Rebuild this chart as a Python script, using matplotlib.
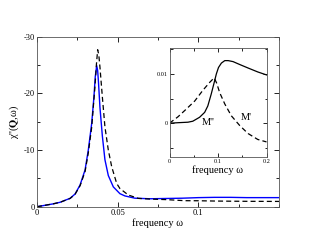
import numpy as np
import matplotlib
matplotlib.use("Agg")
import matplotlib.pyplot as plt
from matplotlib.ticker import MultipleLocator

plt.rcParams["font.family"] = ["Liberation Serif", "DejaVu Serif"]
plt.rcParams["mathtext.fontset"] = "stix"
plt.rcParams["axes.unicode_minus"] = False

# -------------------------------
# Main panel data
# -------------------------------
freq_blue = [0.0, 0.005, 0.010, 0.0143, 0.0205, 0.0236, 0.0267, 0.0298, 0.0318,
             0.0339, 0.0353, 0.0361, 0.0370, 0.0376, 0.0381, 0.0390, 0.0405,
             0.0421, 0.0442, 0.0473, 0.0514, 0.0545, 0.0607, 0.07, 0.08, 0.09,
             0.10, 0.11, 0.12, 0.13, 0.14, 0.15]
chi_blue = [0.0, -0.25, -0.5, -0.78, -1.48, -2.24, -3.83, -6.5, -10.0,
            -14.7, -19.4, -22.9, -24.9, -24.0, -22.0, -17.6, -12.5,
            -8.3, -5.5, -3.5, -2.3, -1.9, -1.5, -1.4, -1.45, -1.5,
            -1.6, -1.65, -1.65, -1.6, -1.6, -1.6]

freq_dash = [0.0, 0.005, 0.010, 0.0143, 0.0205, 0.0236, 0.0267, 0.0298, 0.0318,
             0.0339, 0.0360, 0.0368, 0.0376, 0.0383, 0.0390, 0.0405, 0.0421,
             0.0442, 0.0463, 0.0494, 0.0514, 0.0566, 0.0628, 0.07, 0.08, 0.0917,
             0.10, 0.11, 0.12, 0.13, 0.15]
chi_dash = [0.0, -0.25, -0.5, -0.78, -1.45, -2.2, -3.7, -6.2, -9.5,
            -14.0, -21.5, -25.0, -27.7, -26.8, -24.7, -19.4, -14.1,
            -10.0, -7.06, -4.1, -3.2, -2.06, -1.47, -1.35, -1.25, -1.06,
            -1.05, -1.0, -0.97, -0.95, -0.93]

# -------------------------------
# Inset data
# -------------------------------
w_m2 = [0.0, 0.0175, 0.038, 0.048, 0.062, 0.0725, 0.079, 0.086, 0.092, 0.0966,
        0.101, 0.107, 0.114, 0.121, 0.131, 0.145, 0.162, 0.182, 0.2]
m2 = [0.0, 0.0001, 0.0002, 0.0004, 0.0012, 0.0022, 0.0035, 0.0059, 0.0082, 0.0100,
      0.0113, 0.0122, 0.0127, 0.0127, 0.0125, 0.0119, 0.0112, 0.0104, 0.0098]

w_m1 = [0.0, 0.0175, 0.035, 0.052, 0.069, 0.083, 0.092, 0.097, 0.1035, 0.114,
        0.1275, 0.145, 0.162, 0.182, 0.2]
m1 = [0.0, 0.0013, 0.0029, 0.0045, 0.0067, 0.0083, 0.0092, 0.0082, 0.0062, 0.0039,
      0.0015, -0.0005, -0.0021, -0.0033, -0.0038]

fig = plt.figure(figsize=(3.14, 2.43), dpi=100)
ax = fig.add_axes([37 / 314, 1 - 206.7 / 243, 242 / 314, 170 / 243])

ax.plot(freq_blue, chi_blue, color="blue", lw=1.0)
ax.plot(freq_dash, chi_dash, color="black", lw=0.9, ls=(0, (4, 2.5)))
ax.set_xlim(0, 0.15)
ax.set_ylim(0, -30)
ax.set_xticks([0, 0.05, 0.1])
ax.set_xticklabels(["0", "0.05", "0.1"])
ax.set_yticks([0, -10, -20, -30])
ax.xaxis.set_minor_locator(MultipleLocator(0.025))
ax.yaxis.set_minor_locator(MultipleLocator(5))
ax.tick_params(which="both", direction="in", top=True, right=True,
               labelsize=6, pad=1.5)
ax.tick_params(which="major", length=3.5, width=0.6)
ax.tick_params(which="minor", length=2, width=0.6)
for s in ax.spines.values():
    s.set_linewidth(0.6)
    s.set_color("#555555")
ax.set_xlabel("frequency ω", fontsize=7.5, labelpad=1)
ax.set_ylabel(r"χ''($\mathbf{Q}$,ω)", fontsize=7.5, labelpad=2)

# -------------------------------
# Inset
# -------------------------------
ins = fig.add_axes([169.5 / 314, 1 - 156.7 / 243, 97 / 314, 108.4 / 243])
ins.plot(w_m2, m2, color="black", lw=0.9)
ins.plot(w_m1, m1, color="black", lw=0.9, ls=(0, (4, 2.5)))
ins.set_xlim(0, 0.2)
ins.set_ylim(-0.0068, 0.0152)
ins.set_xticks([0, 0.1, 0.2])
ins.set_xticklabels(["0", "0.1", "0.2"])
ins.set_yticks([0, 0.01])
ins.set_yticklabels(["0", "0.01"])
ins.xaxis.set_minor_locator(MultipleLocator(0.05))
ins.yaxis.set_minor_locator(MultipleLocator(0.005))
ins.tick_params(which="both", direction="in", top=True, right=True,
                labelsize=4.5, pad=1.5)
ins.tick_params(which="major", length=3, width=0.6)
ins.tick_params(which="minor", length=1.8, width=0.6)
for s in ins.spines.values():
    s.set_linewidth(0.6)
    s.set_color("#555555")
ins.set_xlabel("frequency ω", fontsize=7.5, labelpad=1)
ins.text(0.079, 0.0002, "M''", fontsize=7.5, ha="center", va="center")
ins.text(0.159, 0.0011, "M'", fontsize=7.5, ha="center", va="center")

fig.savefig("out.png", dpi=100)
